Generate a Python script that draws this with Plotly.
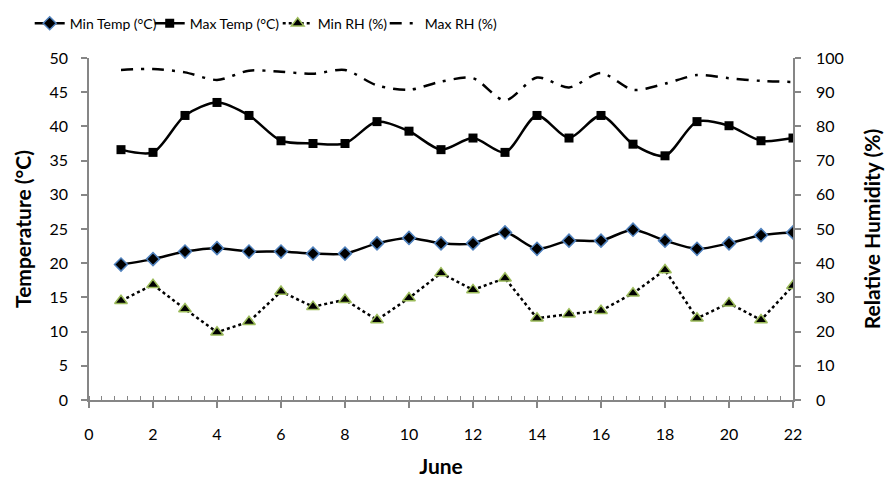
import plotly.graph_objects as go

days = list(range(1, 23))
min_temp = [19.8, 20.6, 21.7, 22.2, 21.7, 21.7, 21.4, 21.4, 22.9, 23.7, 22.9,
            22.9, 24.5, 22.1, 23.3, 23.3, 24.9, 23.3, 22.1, 22.9, 24.1, 24.5]
max_temp = [36.6, 36.2, 41.6, 43.5, 41.6, 37.9, 37.5, 37.5, 40.7, 39.3, 36.6,
            38.3, 36.2, 41.6, 38.3, 41.6, 37.4, 35.7, 40.7, 40.1, 37.9, 38.3]
min_rh = [29.0, 33.7, 26.6, 19.8, 22.9, 31.7, 27.3, 29.3, 23.4, 29.8, 37.1,
          32.2, 35.6, 23.9, 25.1, 26.1, 31.2, 38.0, 23.9, 28.3, 23.4, 33.4]
max_rh = [96.5, 96.8, 95.8, 93.6, 96.3, 96.0, 95.4, 96.5, 92.0, 90.7, 93.1,
          94.1, 87.6, 94.3, 91.4, 95.6, 90.7, 92.5, 95.0, 94.1, 93.3, 93.0]

FONT = "Lato"
AX = "#868686"

fig = go.Figure()
fig.add_trace(go.Scatter(
    x=days, y=min_temp, name="Min Temp (°C)", mode="lines+markers", legend="legend",
    line=dict(color="black", width=2.5, shape="spline", smoothing=0.8),
    marker=dict(symbol="diamond", size=10, color="black",
                line=dict(color="#4f81bd", width=1.5))))
fig.add_trace(go.Scatter(
    x=days, y=max_temp, name="Max Temp (°C)", mode="lines+markers", legend="legend2",
    line=dict(color="black", width=2.5, shape="spline", smoothing=0.8),
    marker=dict(symbol="square", size=9, color="black")))
fig.add_trace(go.Scatter(
    x=days, y=min_rh, name="Min RH (%)", mode="lines+markers", yaxis="y2", legend="legend3",
    line=dict(color="black", width=2.5, dash="dot"),
    marker=dict(symbol="triangle-up", size=11, color="black",
                line=dict(color="#9bbb59", width=1.5))))
fig.add_trace(go.Scatter(
    x=days, y=max_rh, name="Max RH (%)", mode="lines", yaxis="y2", legend="legend4",
    line=dict(color="black", width=2.5, shape="spline", smoothing=0.8,
              dash="12px,8px,3px,8px")))

tickfont = dict(family=FONT, size=16, color="black")
titlefont = dict(family=FONT, size=21, color="black", weight="bold")

PL, PW, PT, PH = 89.3, 704.0, 58.3, 341.7


def leg(xpx):
    return dict(orientation="h", x=(xpx - PL) / PW, xref="paper",
                y=1 + (PT - 24) / PH, yref="paper", yanchor="middle", xanchor="left",
                font=dict(family=FONT, size=14, color="black"),
                bgcolor="rgba(0,0,0,0)", itemwidth=30)


fig.update_layout(
    width=887, height=479,
    margin=dict(l=89, r=94, t=58, b=79, autoexpand=False),
    plot_bgcolor="white", paper_bgcolor="white",
    font=dict(family=FONT, color="black"),
    showlegend=True,
    legend=leg(30), legend2=leg(150), legend3=leg(278), legend4=leg(385),
    xaxis=dict(range=[0, 22], dtick=2, tick0=0, showgrid=False, zeroline=False,
               showline=True, linecolor=AX, linewidth=1.5, automargin=False,
               ticks="outside", ticklen=6, tickcolor=AX, tickwidth=1.5,
               ticklabelstandoff=13,
               minor=dict(dtick=0.4, ticks="inside", ticklen=4, tickcolor=AX,
                          tickwidth=1, showgrid=False),
               tickfont=tickfont,
               title=dict(text="June", font=titlefont, standoff=17)),
    yaxis=dict(range=[0, 50], dtick=5, showgrid=False, zeroline=False,
               showline=True, linecolor=AX, linewidth=1.5, automargin=False,
               ticks="outside", ticklen=6, tickcolor=AX, tickwidth=1.5,
               ticklabelstandoff=10,
               tickfont=tickfont,
               title=dict(text="Temperature (°C)", font=titlefont, standoff=12)),
    yaxis2=dict(range=[0, 100], dtick=10, overlaying="y", side="right",
                showgrid=False, zeroline=False, automargin=False,
                showline=True, linecolor=AX, linewidth=1.5,
                ticks="outside", ticklen=6, tickcolor=AX, tickwidth=1.5,
                ticklabelstandoff=12,
                tickfont=tickfont,
                title=dict(text="Relative Humidity (%)", font=titlefont, standoff=23)),
)

fig.write_html("out.html")
